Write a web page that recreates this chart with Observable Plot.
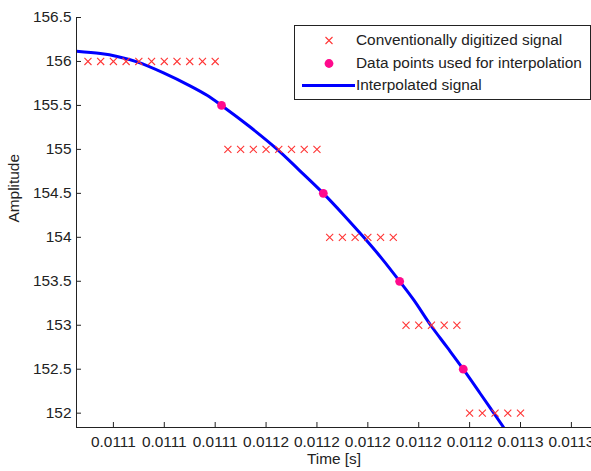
<!DOCTYPE html>
<html>
<head>
<meta charset="utf-8">
<script src="https://cdn.jsdelivr.net/npm/d3@7"></script>
<script src="https://cdn.jsdelivr.net/npm/@observablehq/plot@0.6"></script>
<style>
  html, body { margin: 0; padding: 0; background: #fff; }
  #wrap { position: relative; width: 591px; height: 471px; font-family: "Liberation Sans", Arial, sans-serif; color: #222; }
  #legend { position: absolute; left: 294px; top: 25px; width: 297px; height: 75px; box-sizing: border-box; border: 1px solid #222; background: #fff; font-size: 15.4px; }
  #legend .row { position: absolute; left: 0; height: 22px; width: 100%; }
  #legend .row span { position: absolute; left: 61px; top: 1px; white-space: nowrap; }
  #legend svg { position: absolute; left: 0; top: 0; }
</style>
</head>
<body>
<div id="wrap"></div>
<script>
// ---- data ----
// conventionally digitized signal (sample times, quantized amplitude levels)
const digitizedTime = [
  0.011090, 0.011095, 0.011100, 0.011105, 0.011110, 0.011115, 0.011120, 0.011125, 0.011130, 0.011135, 0.011140,
  0.011145, 0.011150, 0.011155, 0.011160, 0.011165, 0.011170, 0.011175, 0.011180,
  0.011185, 0.011190, 0.011195, 0.011200, 0.011205, 0.011210,
  0.011215, 0.011220, 0.011225, 0.011230, 0.011235,
  0.011240, 0.011245, 0.011250, 0.011255, 0.011260
];
const digitizedValue = [
  156, 156, 156, 156, 156, 156, 156, 156, 156, 156, 156,
  155, 155, 155, 155, 155, 155, 155, 155,
  154, 154, 154, 154, 154, 154,
  153, 153, 153, 153, 153,
  152, 152, 152, 152, 152
];
// data points used for interpolation
const interpTime = [0.0111425, 0.0111825, 0.0112125, 0.0112375];
const interpValue = [155.5, 154.5, 153.5, 152.5];
// interpolated signal
const curveTime = [
  0.0110855, 0.0110949, 0.0111015, 0.0111093, 0.0111197, 0.0111303, 0.0111368, 0.0111425,
  0.0111535, 0.0111644, 0.0111730, 0.0111825, 0.0111905, 0.0111984, 0.0112056, 0.0112125,
  0.0112181, 0.0112247, 0.0112312, 0.0112375, 0.0112443, 0.0112534, 0.0112560
];
const curveValue = [
  156.116, 156.090, 156.057, 155.995, 155.870, 155.720, 155.615, 155.500,
  155.260, 155.000, 154.765, 154.500, 154.255, 154.000, 153.755, 153.500,
  153.285, 153.000, 152.748, 152.500, 152.218, 151.837, 151.730
];
// axes
const xDomain = [0.0110855, 0.0112879];
const yDomain = [151.837, 156.5];
const xTicks = [0.01110, 0.01112, 0.01114, 0.01116, 0.01118, 0.01120, 0.01122, 0.01124, 0.01126, 0.01128];
const xTickLabels = ["0.0111", "0.0111", "0.0111", "0.0112", "0.0112", "0.0112", "0.0112", "0.0112", "0.0113", "0.0113"];
const yTicks = [152, 152.5, 153, 153.5, 154, 154.5, 155, 155.5, 156, 156.5];
const yTickLabels = ["152", "152.5", "153", "153.5", "154", "154.5", "155", "155.5", "156", "156.5"];
const xLabel = "Time [s]";
const yLabel = "Amplitude";
const legendLabels = ["Conventionally digitized signal", "Data points used for interpolation", "Interpolated signal"];

// ---- build tables ----
const digitized = digitizedTime.map((t, i) => ({t, v: digitizedValue[i]}));
const interp = interpTime.map((t, i) => ({t, v: interpValue[i]}));
const curve = curveTime.map((t, i) => ({t, v: curveValue[i]}));

const crossColor = "#ff3535";
const dotColor = "#ff0a8c";
const lineColor = "#0000ff";
const fontSize = 15.4;

const chart = Plot.plot({
  width: 591,
  height: 471,
  marginLeft: 76,
  marginRight: 0,
  marginTop: 17,
  marginBottom: 44,
  style: {fontFamily: "Liberation Sans, Arial, sans-serif", fontSize: fontSize + "px", color: "#222", background: "#fff"},
  x: {domain: xDomain, label: null},
  y: {domain: yDomain, label: null},
  marks: [
    Plot.line(curve, {x: "t", y: "v", stroke: lineColor, strokeWidth: 3, curve: "catmull-rom", clip: true}),
    Plot.dot(digitized, {x: "t", y: "v", symbol: "times", r: 3.3, stroke: crossColor, strokeWidth: 1.1}),
    Plot.dot(interp, {x: "t", y: "v", r: 4.4, fill: dotColor, stroke: "none"}),
    Plot.ruleX([xDomain[0]], {stroke: "#222", strokeWidth: 1}),
    Plot.ruleY([yDomain[0]], {stroke: "#222", strokeWidth: 1}),
    Plot.axisX({ticks: xTicks, tickFormat: d => xTickLabels[xTicks.indexOf(d)], tickSize: -5, tickPadding: 14, fontSize: fontSize, stroke: "#222", label: null}),
    Plot.axisY({ticks: yTicks, tickFormat: d => yTickLabels[yTicks.indexOf(d)], tickSize: -5, tickPadding: 10, fontSize: fontSize, stroke: "#222", label: null}),
    Plot.text([xLabel], {frameAnchor: "bottom", dy: 36, fontSize: fontSize, fill: "#222"}),
    Plot.text([yLabel], {frameAnchor: "left", dx: -62, rotate: -90, fontSize: fontSize, fill: "#222"})
  ]
});

const wrap = document.getElementById("wrap");
wrap.appendChild(chart);

// legend
const legend = document.createElement("div");
legend.id = "legend";
const rowTops = [4, 27, 49];
legendLabels.forEach((lab, i) => {
  const row = document.createElement("div");
  row.className = "row";
  row.style.top = rowTops[i] + "px";
  const svg = d3.create("svg").attr("width", 62).attr("height", 22);
  if (i === 0) {
    svg.append("path").attr("d", "M30.5,7L37.5,14M37.5,7L30.5,14").attr("stroke", crossColor).attr("stroke-width", 1.1).attr("fill", "none");
  } else if (i === 1) {
    svg.append("circle").attr("cx", 34).attr("cy", 10.5).attr("r", 4.4).attr("fill", dotColor);
  } else {
    svg.append("line").attr("x1", 7).attr("x2", 60).attr("y1", 10.5).attr("y2", 10.5).attr("stroke", lineColor).attr("stroke-width", 3);
  }
  row.appendChild(svg.node());
  const span = document.createElement("span");
  span.textContent = lab;
  row.appendChild(span);
  legend.appendChild(row);
});
wrap.appendChild(legend);
</script>
</body>
</html>
